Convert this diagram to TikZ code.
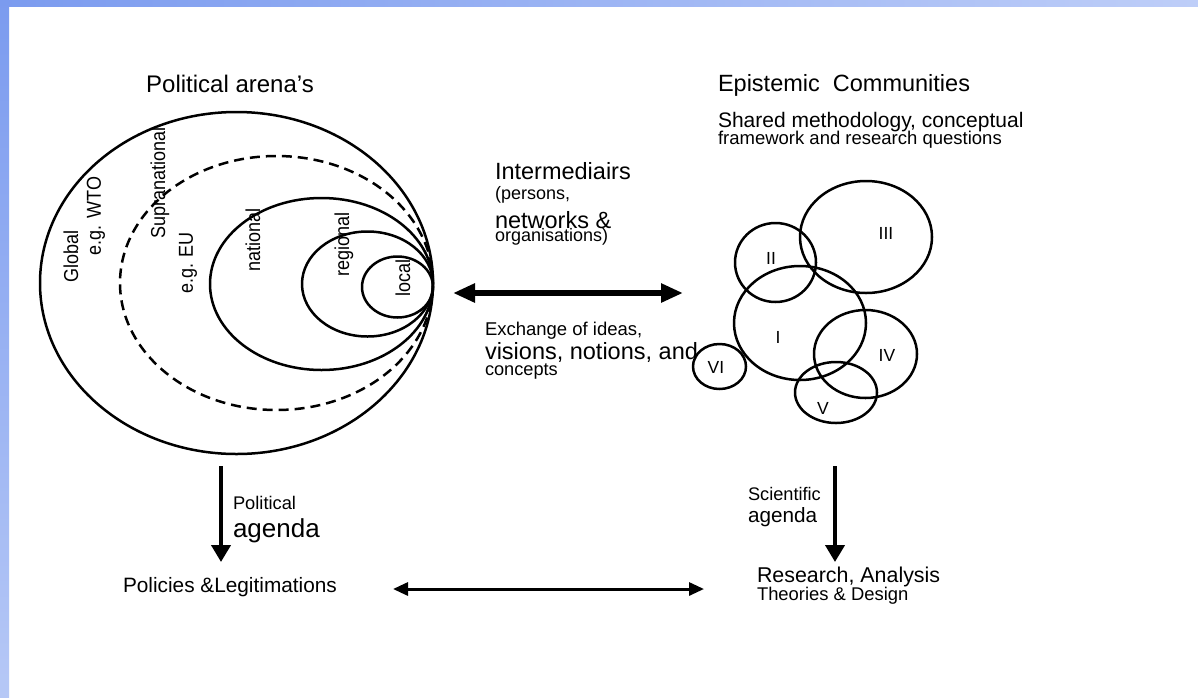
\documentclass[tikz,border=0pt]{standalone}
\usepackage{fontspec}
\usepackage{graphicx}
\setmainfont{Liberation Sans}
\usetikzlibrary{shapes.geometric,arrows.meta}
\definecolor{barA}{RGB}{123,155,239}
\definecolor{barB}{RGB}{190,206,248}
\definecolor{barC}{RGB}{182,200,246}
\newcommand{\fsz}[1]{\fontsize{#1}{#1}\selectfont}
\newcommand{\rstr}[1]{\scalebox{1}[1.12]{#1}}
\begin{document}
\begin{tikzpicture}[x=1pt,y=-1pt,
  ell/.style={ellipse, draw, line width=2.5pt, inner sep=0pt, outer sep=0pt},
  txt/.style={inner sep=0pt, outer sep=0pt, anchor=base west},
  rottxt/.style={inner sep=0pt, rotate=90, font=\fsz{18}},
  roman/.style={inner sep=0pt, font=\fsz{17.5}},
  bigarr/.style={line width=6pt, >={Triangle[length=22pt,width=18pt]}, <->},
  downarr/.style={line width=4pt, -{Triangle[length=17pt,width=19pt]}},
  thinarr/.style={line width=3pt, >={Triangle[length=15pt,width=13pt]}, <->}]
\useasboundingbox (0,0) rectangle (1198,697);
\fill[white] (0,0) rectangle (1198,697);
\shade[left color=barA, right color=barB] (0,0) rectangle (1198,6);
\shade[top color=barA, bottom color=barC] (0,0) rectangle (9,697);

% Political arenas
\node[txt, anchor=base, font=\fsz{24}] (polar) at (230,92) {Political arena’s};
\node[ell, minimum width=393pt, minimum height=342pt] (global) at (236.5,283) {};
\node[ell, dash pattern=on 10pt off 6pt, minimum width=313pt, minimum height=254pt] (supra) at (276.5,283) {};
\node[ell, minimum width=223pt, minimum height=172pt] (national) at (321.5,284) {};
\node[ell, minimum width=131pt, minimum height=105pt] (regional) at (367.5,284) {};
\node[ell, minimum width=71pt, minimum height=61pt] (local) at (397.5,287) {};
\node[rottxt] (tglobal) at (71,256) {\rstr{Global}};
\node[rottxt] (twto) at (96,216) {\rstr{e.g. WTO}};
\node[rottxt] (tsupra) at (160,183) {\rstr{Supranational}};
\node[rottxt] (teu) at (188,263) {\rstr{e.g. EU}};
\node[rottxt] (tnational) at (253,240) {\rstr{national}};
\node[rottxt] (tregional) at (344,244) {\rstr{regional}};
\node[rottxt] (tlocal) at (403,278) {\rstr{local}};

% Epistemic communities
\node[txt, font=\fsz{23.5}] (epi) at (718,91) {Epistemic\ \ Communities};
\node[txt, font=\fsz{21}] (shared) at (718,127) {Shared methodology, conceptual};
\node[txt, font=\fsz{18.5}] (frame) at (718,144) {framework and research questions};
\node[ell, minimum width=132pt, minimum height=112pt] (c3) at (866,237) {};
\node[ell, minimum width=81pt, minimum height=79pt] (c2) at (775.5,262.5) {};
\node[ell, minimum width=132pt, minimum height=114pt] (c1) at (800,323) {};
\node[ell, minimum width=103pt, minimum height=88pt] (c4) at (865.5,354) {};
\node[ell, minimum width=82pt, minimum height=61pt] (c5) at (836,392.5) {};
\node[ell, minimum width=53pt, minimum height=45pt] (c6) at (719.5,366.5) {};
\node[roman] (l3) at (886,233) {III};
\node[roman] (l2) at (771,258) {II};
\node[roman] (l1) at (778,337) {I};
\node[roman] (l4) at (887,355) {IV};
\node[roman] (l5) at (823,408) {V};
\node[roman] (l6) at (716,367) {VI};

% Intermediairs
\node[txt, font=\fsz{23.5}] (inter) at (495,179) {Intermediairs};
\node[txt, font=\fsz{18}] (pers) at (495,199) {(persons,};
\node[txt, font=\fsz{23.5}] (netw) at (495,228) {networks \&};
\node[txt, font=\fsz{18}] (orgs) at (495,241) {organisations)};
\node[txt, font=\fsz{18.5}] (exch) at (485,335) {Exchange of ideas,};
\node[txt, font=\fsz{23.5}] (vis) at (485,359) {visions, notions, and};
\node[txt, font=\fsz{18.2}] (conc) at (485,375) {concepts};

\coordinate (ta1) at (453,293);
\coordinate (ta2) at (683,293);
\draw[bigarr] (ta1) -- (ta2);

% Bottom
\node[txt, font=\fsz{18.3}] (pol) at (233,509) {Political};
\node[txt, font=\fsz{26}] (pag) at (233,537) {agenda};
\node[txt, font=\fsz{20.8}] (policies) at (123,592) {Policies \&Legitimations};
\node[txt, font=\fsz{18.2}] (sci) at (748,500) {Scientific};
\node[txt, font=\fsz{20.7}] (sag) at (748,522) {agenda};
\node[txt, font=\fsz{21.4}] (research) at (757,582) {Research, Analysis};
\node[txt, font=\fsz{18.4}] (theories) at (757,600) {Theories \& Design};

\coordinate (pa1) at (221,466);
\coordinate (pa2) at (221,562);
\draw[downarr] (pa1) -- (pa2);
\coordinate (sa1) at (835,466);
\coordinate (sa2) at (835,562);
\draw[downarr] (sa1) -- (sa2);
\coordinate (ba1) at (393,589);
\coordinate (ba2) at (704,589);
\draw[thinarr] (ba1) -- (ba2);
\end{tikzpicture}
\end{document}
